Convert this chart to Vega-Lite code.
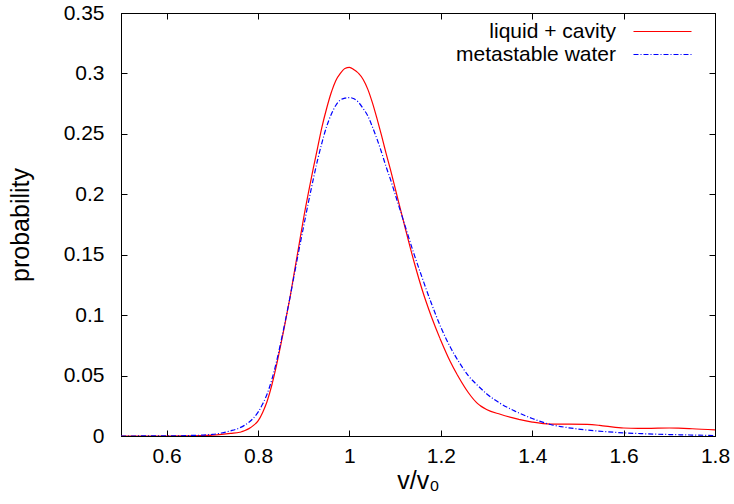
{
  "$schema": "https://vega.github.io/schema/vega-lite/v6.json",
  "width": 594,
  "height": 423,
  "autosize": {"type": "none"},
  "padding": {"left": 121, "top": 13, "right": 19, "bottom": 68},
  "background": "white",
  "config": {
    "view": {"stroke": "black", "strokeWidth": 1},
    "font": "Liberation Sans",
    "axis": {
      "grid": false,
      "domainColor": "black",
      "tickColor": "black",
      "labelColor": "black",
      "titleColor": "black",
      "labelFont": "Liberation Sans",
      "titleFont": "Liberation Sans",
      "labelFontSize": 21,
      "titleFontSize": 25,
      "titleFontWeight": "normal",
      "tickSize": -6,
      "domainWidth": 1,
      "tickWidth": 1,
      "labelFlush": false
    },
    "legend": {
      "labelFont": "Liberation Sans",
      "labelFontSize": 21,
      "labelColor": "black"
    }
  },
  "data": {
    "values": [
      {"x": 0.50, "y": 0, "series": "liquid + cavity"},
      {"x": 0.60, "y": 0, "series": "liquid + cavity"},
      {"x": 0.65, "y": 0.0001, "series": "liquid + cavity"},
      {"x": 0.70, "y": 0.0007, "series": "liquid + cavity"},
      {"x": 0.72, "y": 0.0013, "series": "liquid + cavity"},
      {"x": 0.74, "y": 0.0021, "series": "liquid + cavity"},
      {"x": 0.76, "y": 0.0031, "series": "liquid + cavity"},
      {"x": 0.77, "y": 0.0043, "series": "liquid + cavity"},
      {"x": 0.78, "y": 0.0061, "series": "liquid + cavity"},
      {"x": 0.79, "y": 0.0088, "series": "liquid + cavity"},
      {"x": 0.80, "y": 0.0125, "series": "liquid + cavity"},
      {"x": 0.81, "y": 0.0195, "series": "liquid + cavity"},
      {"x": 0.82, "y": 0.029, "series": "liquid + cavity"},
      {"x": 0.83, "y": 0.042, "series": "liquid + cavity"},
      {"x": 0.84, "y": 0.058, "series": "liquid + cavity"},
      {"x": 0.85, "y": 0.076, "series": "liquid + cavity"},
      {"x": 0.86, "y": 0.095, "series": "liquid + cavity"},
      {"x": 0.87, "y": 0.115, "series": "liquid + cavity"},
      {"x": 0.88, "y": 0.137, "series": "liquid + cavity"},
      {"x": 0.89, "y": 0.159, "series": "liquid + cavity"},
      {"x": 0.90, "y": 0.181, "series": "liquid + cavity"},
      {"x": 0.91, "y": 0.201, "series": "liquid + cavity"},
      {"x": 0.92, "y": 0.220, "series": "liquid + cavity"},
      {"x": 0.93, "y": 0.238, "series": "liquid + cavity"},
      {"x": 0.94, "y": 0.256, "series": "liquid + cavity"},
      {"x": 0.95, "y": 0.271, "series": "liquid + cavity"},
      {"x": 0.96, "y": 0.284, "series": "liquid + cavity"},
      {"x": 0.97, "y": 0.294, "series": "liquid + cavity"},
      {"x": 0.98, "y": 0.300, "series": "liquid + cavity"},
      {"x": 0.99, "y": 0.304, "series": "liquid + cavity"},
      {"x": 1.00, "y": 0.305, "series": "liquid + cavity"},
      {"x": 1.01, "y": 0.303, "series": "liquid + cavity"},
      {"x": 1.02, "y": 0.300, "series": "liquid + cavity"},
      {"x": 1.03, "y": 0.295, "series": "liquid + cavity"},
      {"x": 1.04, "y": 0.287, "series": "liquid + cavity"},
      {"x": 1.05, "y": 0.276, "series": "liquid + cavity"},
      {"x": 1.06, "y": 0.263, "series": "liquid + cavity"},
      {"x": 1.07, "y": 0.249, "series": "liquid + cavity"},
      {"x": 1.08, "y": 0.234, "series": "liquid + cavity"},
      {"x": 1.09, "y": 0.220, "series": "liquid + cavity"},
      {"x": 1.10, "y": 0.205, "series": "liquid + cavity"},
      {"x": 1.12, "y": 0.175, "series": "liquid + cavity"},
      {"x": 1.14, "y": 0.146, "series": "liquid + cavity"},
      {"x": 1.16, "y": 0.120, "series": "liquid + cavity"},
      {"x": 1.18, "y": 0.098, "series": "liquid + cavity"},
      {"x": 1.20, "y": 0.079, "series": "liquid + cavity"},
      {"x": 1.22, "y": 0.062, "series": "liquid + cavity"},
      {"x": 1.24, "y": 0.048, "series": "liquid + cavity"},
      {"x": 1.26, "y": 0.036, "series": "liquid + cavity"},
      {"x": 1.28, "y": 0.027, "series": "liquid + cavity"},
      {"x": 1.30, "y": 0.022, "series": "liquid + cavity"},
      {"x": 1.33, "y": 0.018, "series": "liquid + cavity"},
      {"x": 1.36, "y": 0.0148, "series": "liquid + cavity"},
      {"x": 1.40, "y": 0.0115, "series": "liquid + cavity"},
      {"x": 1.44, "y": 0.0098, "series": "liquid + cavity"},
      {"x": 1.48, "y": 0.0098, "series": "liquid + cavity"},
      {"x": 1.52, "y": 0.0097, "series": "liquid + cavity"},
      {"x": 1.56, "y": 0.0082, "series": "liquid + cavity"},
      {"x": 1.60, "y": 0.0066, "series": "liquid + cavity"},
      {"x": 1.65, "y": 0.0063, "series": "liquid + cavity"},
      {"x": 1.70, "y": 0.0066, "series": "liquid + cavity"},
      {"x": 1.75, "y": 0.0060, "series": "liquid + cavity"},
      {"x": 1.80, "y": 0.0050, "series": "liquid + cavity"},
      {"x": 0.50, "y": 0, "series": "metastable water"},
      {"x": 0.60, "y": 0.0001, "series": "metastable water"},
      {"x": 0.65, "y": 0.0004, "series": "metastable water"},
      {"x": 0.70, "y": 0.0013, "series": "metastable water"},
      {"x": 0.72, "y": 0.0025, "series": "metastable water"},
      {"x": 0.74, "y": 0.0043, "series": "metastable water"},
      {"x": 0.76, "y": 0.0068, "series": "metastable water"},
      {"x": 0.77, "y": 0.0088, "series": "metastable water"},
      {"x": 0.78, "y": 0.0114, "series": "metastable water"},
      {"x": 0.79, "y": 0.0149, "series": "metastable water"},
      {"x": 0.80, "y": 0.0197, "series": "metastable water"},
      {"x": 0.81, "y": 0.0264, "series": "metastable water"},
      {"x": 0.82, "y": 0.035, "series": "metastable water"},
      {"x": 0.83, "y": 0.0465, "series": "metastable water"},
      {"x": 0.84, "y": 0.061, "series": "metastable water"},
      {"x": 0.85, "y": 0.078, "series": "metastable water"},
      {"x": 0.86, "y": 0.096, "series": "metastable water"},
      {"x": 0.87, "y": 0.115, "series": "metastable water"},
      {"x": 0.88, "y": 0.135, "series": "metastable water"},
      {"x": 0.89, "y": 0.155, "series": "metastable water"},
      {"x": 0.90, "y": 0.174, "series": "metastable water"},
      {"x": 0.91, "y": 0.193, "series": "metastable water"},
      {"x": 0.92, "y": 0.211, "series": "metastable water"},
      {"x": 0.93, "y": 0.228, "series": "metastable water"},
      {"x": 0.94, "y": 0.243, "series": "metastable water"},
      {"x": 0.95, "y": 0.256, "series": "metastable water"},
      {"x": 0.96, "y": 0.266, "series": "metastable water"},
      {"x": 0.97, "y": 0.2735, "series": "metastable water"},
      {"x": 0.98, "y": 0.278, "series": "metastable water"},
      {"x": 0.99, "y": 0.2795, "series": "metastable water"},
      {"x": 1.00, "y": 0.280, "series": "metastable water"},
      {"x": 1.01, "y": 0.279, "series": "metastable water"},
      {"x": 1.02, "y": 0.276, "series": "metastable water"},
      {"x": 1.03, "y": 0.271, "series": "metastable water"},
      {"x": 1.04, "y": 0.265, "series": "metastable water"},
      {"x": 1.05, "y": 0.256, "series": "metastable water"},
      {"x": 1.06, "y": 0.246, "series": "metastable water"},
      {"x": 1.07, "y": 0.235, "series": "metastable water"},
      {"x": 1.08, "y": 0.223, "series": "metastable water"},
      {"x": 1.09, "y": 0.212, "series": "metastable water"},
      {"x": 1.10, "y": 0.200, "series": "metastable water"},
      {"x": 1.12, "y": 0.176, "series": "metastable water"},
      {"x": 1.14, "y": 0.152, "series": "metastable water"},
      {"x": 1.16, "y": 0.130, "series": "metastable water"},
      {"x": 1.18, "y": 0.109, "series": "metastable water"},
      {"x": 1.20, "y": 0.090, "series": "metastable water"},
      {"x": 1.22, "y": 0.074, "series": "metastable water"},
      {"x": 1.24, "y": 0.061, "series": "metastable water"},
      {"x": 1.26, "y": 0.050, "series": "metastable water"},
      {"x": 1.28, "y": 0.042, "series": "metastable water"},
      {"x": 1.30, "y": 0.035, "series": "metastable water"},
      {"x": 1.33, "y": 0.027, "series": "metastable water"},
      {"x": 1.36, "y": 0.021, "series": "metastable water"},
      {"x": 1.40, "y": 0.0145, "series": "metastable water"},
      {"x": 1.44, "y": 0.0095, "series": "metastable water"},
      {"x": 1.48, "y": 0.0068, "series": "metastable water"},
      {"x": 1.52, "y": 0.0049, "series": "metastable water"},
      {"x": 1.56, "y": 0.0036, "series": "metastable water"},
      {"x": 1.60, "y": 0.0026, "series": "metastable water"},
      {"x": 1.65, "y": 0.0018, "series": "metastable water"},
      {"x": 1.70, "y": 0.0012, "series": "metastable water"},
      {"x": 1.75, "y": 0.0008, "series": "metastable water"},
      {"x": 1.80, "y": 0.0004, "series": "metastable water"}
    ]
  },
  "layer": [
    {
      "mark": {"type": "line", "strokeWidth": 1.2, "interpolate": "monotone", "clip": true},
      "encoding": {
        "x": {
          "field": "x", "type": "quantitative",
          "scale": {"domain": [0.5, 1.8], "nice": false, "zero": false},
          "axis": {
            "orient": "bottom",
            "values": [0.6, 0.8, 1, 1.2, 1.4, 1.6, 1.8],
            "format": "~g",
            "labelPadding": 15,
            "title": "v/v₀",
            "titlePadding": 2
          }
        },
        "y": {
          "field": "y", "type": "quantitative",
          "scale": {"domain": [0, 0.35], "nice": false, "zero": false},
          "axis": {
            "orient": "left",
            "values": [0, 0.05, 0.1, 0.15, 0.2, 0.25, 0.3, 0.35],
            "format": "~g",
            "labelPadding": 23,
            "title": "probability",
            "titlePadding": 30
          }
        },
        "color": {
          "field": "series", "type": "nominal",
          "scale": {"domain": ["liquid + cavity", "metastable water"], "range": ["#ff0000", "#0000ff"]},
          "legend": {
            "title": null,
            "orient": "none",
            "legendX": 531,
            "legendY": 8,
            "symbolType": "M-5,0H5",
            "symbolSize": 134.6,
            "symbolStrokeWidth": 1.2,
            "labelAlign": "right",
            "labelOffset": -57,
            "rowPadding": 1,
            "padding": 0,
            "encode": {
              "symbols": {
                "update": {
                  "stroke": {"signal": "datum.value === 'liquid + cavity' ? '#ff0000' : '#0000ff'"},
                  "strokeOpacity": {"value": 1},
                  "opacity": {"value": 1},
                  "strokeWidth": {"value": 1.2},
                  "strokeDash": {"signal": "datum.value === 'liquid + cavity' ? [40, 0] : [5, 2, 1, 2]"},
                  "fill": {"value": "transparent"}
                }
              }
            }
          }
        },
        "strokeDash": {
          "field": "series", "type": "nominal",
          "scale": {"domain": ["liquid + cavity", "metastable water"], "range": [[40, 0], [5, 2, 1, 2]]},
          "legend": null
        }
      }
    },
    {
      "mark": {"type": "point", "opacity": 0},
      "encoding": {
        "x": {
          "field": "x", "type": "quantitative",
          "axis": {
            "orient": "top",
            "values": [0.6, 0.8, 1, 1.2, 1.4, 1.6, 1.8],
            "labels": false,
            "title": null
          }
        },
        "y": {
          "field": "y", "type": "quantitative",
          "axis": {
            "orient": "right",
            "values": [0, 0.05, 0.1, 0.15, 0.2, 0.25, 0.3, 0.35],
            "labels": false,
            "title": null
          }
        }
      }
    }
  ]
}
